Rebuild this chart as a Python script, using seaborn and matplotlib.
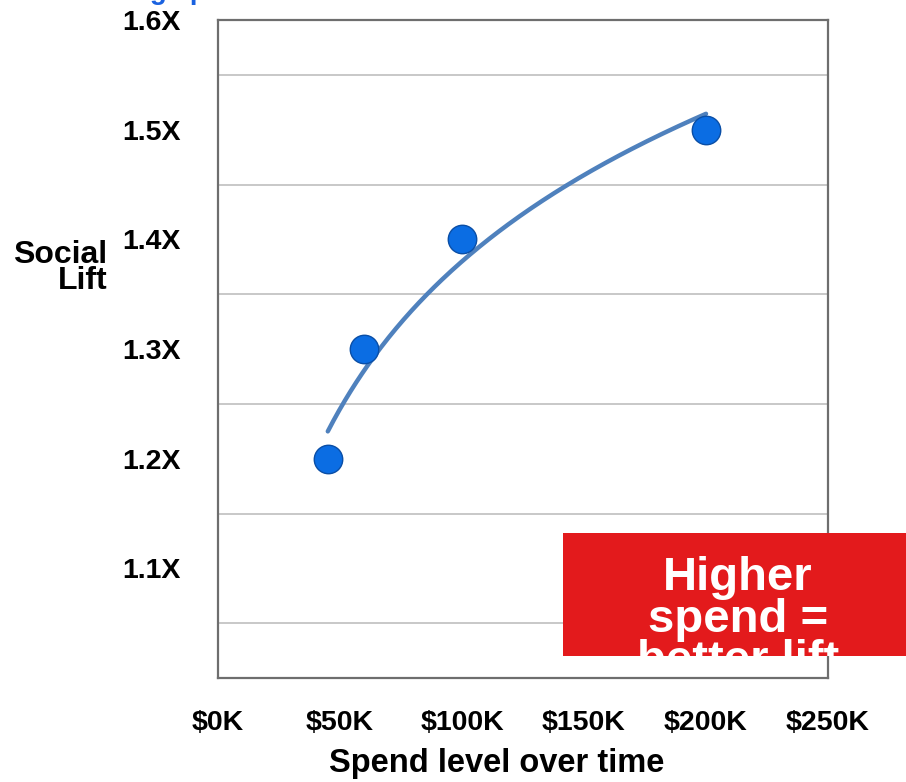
import numpy as np
import pandas as pd
import matplotlib
matplotlib.use("Agg")
import matplotlib.pyplot as plt
import seaborn as sns
from matplotlib.patches import Rectangle

# Data
spend_k = [45, 60, 100, 200]
social_lift = [1.2, 1.3, 1.4, 1.5]
x_ticks = [0, 50, 100, 150, 200, 250]
x_tick_labels = ["$0K", "$50K", "$100K", "$150K", "$200K", "$250K"]
y_ticks = [1.1, 1.2, 1.3, 1.4, 1.5, 1.6]
y_tick_labels = ["1.1X", "1.2X", "1.3X", "1.4X", "1.5X", "1.6X"]
y_grid = [1.05, 1.15, 1.25, 1.35, 1.45, 1.55]

sns.set_theme(style="white")
FONT = ["Liberation Sans", "DejaVu Sans"]
plt.rcParams["font.family"] = FONT

df = pd.DataFrame({"spend": spend_k, "lift": social_lift})

fig = plt.figure(figsize=(9.06, 7.82), dpi=100)
ax = fig.add_axes([218/906, 1-678/782, (828-218)/906, (678-20)/782])

# log trendline fitted to the data
b, a = np.polyfit(np.log(df["spend"]), df["lift"], 1)
xs = np.linspace(min(spend_k), max(spend_k), 200)
trend = pd.DataFrame({"spend": xs, "lift": a + b*np.log(xs)})
sns.lineplot(data=trend, x="spend", y="lift", ax=ax, color="#4f81bd", lw=3.2, zorder=3)
sns.scatterplot(data=df, x="spend", y="lift", ax=ax, s=420, color="#0b6de3",
                edgecolor="#0a4ea6", linewidth=1.0, zorder=4)

ax.set_xlim(0, 250)
ax.set_ylim(1.0, 1.6)
ax.set_xticks(x_ticks)
ax.set_xticklabels(x_tick_labels, fontsize=20.5, fontweight="bold", color="black")
ax.set_yticks(y_ticks)
ax.set_yticklabels(y_tick_labels, fontsize=20.5, fontweight="bold", color="black")
ax.set_yticks(y_grid, minor=True)
ax.tick_params(axis="both", which="both", length=0)
ax.tick_params(axis="x", pad=23)
ax.tick_params(axis="y", pad=27)
ax.grid(False)
ax.grid(True, which="minor", axis="y", color="#c4c4c4", lw=1.3)
for sp in ax.spines.values():
    sp.set_visible(True)
    sp.set_color("#6e6e6e")
    sp.set_linewidth(1.6)
ax.set_xlabel("")
ax.set_ylabel("")

fig.text(107/906, 1-268/782, "Social\nLift", ha="right", va="center",
         fontsize=23, fontweight="bold", linespacing=0.85, color="black")
fig.text(497/906, 1-779/782, "Spend level over time", ha="center", va="bottom",
         fontsize=23.5, fontweight="bold", color="black")

# partially visible title at the top
fig.text(28/906, 1+1/782, "Increasing spend", ha="left", va="baseline",
         fontsize=20, fontweight="bold", color="#1a62e0")

# red callout box
rect = Rectangle((563/906, 1-656/782), (906-563)/906, (656-533)/782,
                 transform=fig.transFigure, facecolor="#e31a1c", edgecolor="none", zorder=10)
fig.add_artist(rect)
t = fig.text(738/906, 1-556/782, "Higher\nspend =\nbetter lift", ha="center", va="top",
             fontsize=34, fontweight="bold", color="white", linespacing=0.93, zorder=11)
t.set_clip_path(rect)

fig.savefig("out.png", dpi=100)
